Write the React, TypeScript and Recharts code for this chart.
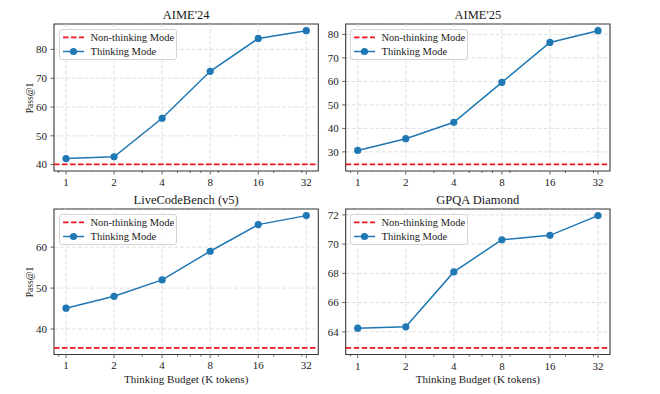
import React from "react";
import {
  LineChart,
  Line,
  XAxis,
  YAxis,
  CartesianGrid,
  ReferenceLine,
  ReferenceArea,
} from "recharts";

// ---- data ----
const budgets = [1, 2, 4, 8, 16, 32];
const minorBudgets = [0.9, 3, 5, 6, 7, 9, 20, 30];

const aime24Thinking = [42.1, 42.7, 56.1, 72.4, 83.8, 86.5];
const aime24NonThinking = 40.1;
const aime24Ticks = [40, 50, 60, 70, 80];

const aime25Thinking = [30.6, 35.6, 42.6, 59.6, 76.6, 81.6];
const aime25NonThinking = 24.7;
const aime25Ticks = [30, 40, 50, 60, 70, 80];

const lcbThinking = [45.1, 48.0, 52.0, 59.0, 65.5, 67.7];
const lcbNonThinking = 35.4;
const lcbTicks = [40, 50, 60];

const gpqaThinking = [64.25, 64.34, 68.1, 70.3, 70.6, 71.95];
const gpqaNonThinking = 62.9;
const gpqaTicks = [64, 66, 68, 70, 72];

const titles = ["AIME'24", "AIME'25", "LiveCodeBench (v5)", "GPQA Diamond"];
const legendLabels = ["Non-thinking Mode", "Thinking Mode"];
const xLabel = "Thinking Budget (K tokens)";
const yLabel = "Pass@1";

// ---- styling ----
const FONT = "'Liberation Serif', 'Times New Roman', serif";
const BLUE = "#1f77b4";
const RED = "#f0141e";
const GRID = "#d8d8d8";
const FRAME = "#3a3a3a";
const TEXT = "#1a1a1a";

const log2 = (v: number) => Math.log(v) / Math.log(2);
const X_DOMAIN: [number, number] = [-0.25, 5.25];
const xTicks = [...minorBudgets, ...budgets].map(log2).sort((a, b) => a - b);

function padDomain(values: number[], ref: number): [number, number] {
  const lo = Math.min(ref, ...values);
  const hi = Math.max(ref, ...values);
  const m = (hi - lo) * 0.05;
  return [lo - m, hi + m];
}

function XTick(props: any) {
  const { x, y, payload } = props;
  const b = Math.round(Math.pow(2, payload.value) * 100) / 100;
  const major = budgets.includes(b);
  return (
    <g>
      <line x1={x} x2={x} y1={y} y2={y + (major ? 3.5 : 2)} stroke={FRAME} strokeWidth={0.8} />
      {major && (
        <text
          x={x}
          y={y + 15}
          textAnchor="middle"
          style={{ fontSize: 11, fontFamily: FONT, fill: TEXT }}
        >
          {b}
        </text>
      )}
    </g>
  );
}

function YTick(props: any) {
  const { x, y, payload } = props;
  return (
    <text
      x={x}
      y={y}
      dy={3.8}
      textAnchor="end"
      style={{ fontSize: 11, fontFamily: FONT, fill: TEXT }}
    >
      {payload.value}
    </text>
  );
}

type PanelProps = {
  title: string;
  values: number[];
  nonThinking: number;
  yTicks: number[];
  left: number;
  top: number;
  yAxisWidth: number;
  marginTop: number;
  height: number;
  showYLabel: boolean;
  showXLabel: boolean;
};

function Panel(p: PanelProps) {
  const data = budgets.map((b, i) => ({ x: log2(b), y: p.values[i] }));
  const domain = padDomain(p.values, p.nonThinking);
  const plotW = 264.3;
  const width = p.yAxisWidth + plotW + 12;
  const plotLeft = p.left + p.yAxisWidth;
  const plotTop = p.top + p.marginTop;
  const plotH = p.height - p.marginTop - 26;
  return (
    <>
      <div style={{ position: "absolute", left: p.left, top: p.top }}>
        <LineChart
          width={width}
          height={p.height}
          data={data}
          margin={{ top: p.marginTop, right: 12, left: 0, bottom: 0 }}
        >
          <CartesianGrid vertical={false} stroke={GRID} strokeDasharray="4 2" strokeWidth={0.8} />
          <XAxis
            dataKey="x"
            type="number"
            domain={X_DOMAIN}
            allowDataOverflow
            ticks={xTicks}
            interval={0}
            height={26}
            tickSize={0}
            tickMargin={0}
            tickLine={false}
            axisLine={false}
            tick={(tp: any) => <XTick {...tp} />}
          />
          <YAxis
            type="number"
            domain={domain}
            allowDataOverflow
            ticks={p.yTicks}
            interval={0}
            width={p.yAxisWidth}
            tickSize={3.5}
            tickMargin={3.5}
            axisLine={false}
            tickLine={{ stroke: FRAME, strokeWidth: 0.8 }}
            tick={(tp: any) => <YTick {...tp} />}
          />
          {budgets.map((b) => (
            <ReferenceLine
              key={b}
              x={log2(b)}
              stroke={GRID}
              strokeDasharray="4 2"
              strokeWidth={0.8}
            />
          ))}
          <ReferenceLine
            y={p.nonThinking}
            stroke={RED}
            strokeWidth={1.8}
            strokeDasharray="5.5 2.5"
          />
          <Line
            dataKey="y"
            stroke={BLUE}
            strokeWidth={1.5}
            dot={{ r: 3.6, fill: BLUE, stroke: BLUE, strokeWidth: 0 }}
            isAnimationActive={false}
          />
          <ReferenceArea
            x1={X_DOMAIN[0]}
            x2={X_DOMAIN[1]}
            y1={domain[0]}
            y2={domain[1]}
            fill="none"
            fillOpacity={0}
            stroke={FRAME}
            strokeWidth={1.1}
            ifOverflow="visible"
          />
        </LineChart>
      </div>
      {/* title */}
      <div
        style={{
          position: "absolute",
          left: plotLeft,
          width: plotW,
          top: plotTop - 17,
          height: 16,
          lineHeight: "16px",
          textAlign: "center",
          fontFamily: FONT,
          fontSize: 12.5,
          color: TEXT,
          whiteSpace: "nowrap",
        }}
      >
        {p.title}
      </div>
      {/* legend */}
      <div
        style={{
          position: "absolute",
          left: plotLeft + 4.7,
          top: plotTop + 5,
          width: 118,
          height: 31,
          boxSizing: "border-box",
          border: "1px solid #d4d4d4",
          borderRadius: 3,
          background: "rgba(255,255,255,0.85)",
        }}
      >
        <svg width={118} height={31} style={{ position: "absolute", left: -1, top: -1 }}>
          <line x1={4} x2={25} y1={8.3} y2={8.3} stroke={RED} strokeWidth={1.8} strokeDasharray="5.5 2.5" />
          <line x1={4} x2={25} y1={22.5} y2={22.5} stroke={BLUE} strokeWidth={1.5} />
          <circle cx={14.5} cy={22.5} r={3.6} fill={BLUE} />
          <text x={31.5} y={12} style={{ fontSize: 10.5, fontFamily: FONT, fill: TEXT }}>
            {legendLabels[0]}
          </text>
          <text x={31.5} y={26.2} style={{ fontSize: 10.5, fontFamily: FONT, fill: TEXT }}>
            {legendLabels[1]}
          </text>
        </svg>
      </div>
      {p.showYLabel && (
        <div
          style={{
            position: "absolute",
            left: plotLeft - 24 - 40,
            top: plotTop + plotH / 2 - 8,
            width: 80,
            height: 16,
            lineHeight: "16px",
            textAlign: "center",
            fontFamily: FONT,
            fontSize: 9.5,
            color: TEXT,
            transform: "rotate(-90deg)",
          }}
        >
          {yLabel}
        </div>
      )}
      {p.showXLabel && (
        <div
          style={{
            position: "absolute",
            left: plotLeft,
            width: plotW,
            top: plotTop + plotH + 16,
            height: 16,
            lineHeight: "16px",
            textAlign: "center",
            fontFamily: FONT,
            fontSize: 11,
            color: TEXT,
            whiteSpace: "nowrap",
          }}
        >
          {xLabel}
        </div>
      )}
    </>
  );
}

export default function App() {
  return (
    <div
      style={{
        position: "absolute",
        left: 0,
        top: 0,
        width: 660,
        height: 394,
        background: "#fff",
        overflow: "hidden",
      }}
    >
      <Panel
        title={titles[0]}
        values={aime24Thinking}
        nonThinking={aime24NonThinking}
        yTicks={aime24Ticks}
        left={0}
        top={0}
        yAxisWidth={54}
        marginTop={24}
        height={197}
        showYLabel
        showXLabel={false}
      />
      <Panel
        title={titles[1]}
        values={aime25Thinking}
        nonThinking={aime25NonThinking}
        yTicks={aime25Ticks}
        left={290}
        top={0}
        yAxisWidth={55.7}
        marginTop={24}
        height={197}
        showYLabel={false}
        showXLabel={false}
      />
      <Panel
        title={titles[2]}
        values={lcbThinking}
        nonThinking={lcbNonThinking}
        yTicks={lcbTicks}
        left={0}
        top={190}
        yAxisWidth={54}
        marginTop={19}
        height={190.5}
        showYLabel
        showXLabel
      />
      <Panel
        title={titles[3]}
        values={gpqaThinking}
        nonThinking={gpqaNonThinking}
        yTicks={gpqaTicks}
        left={290}
        top={190}
        yAxisWidth={55.7}
        marginTop={19}
        height={190.5}
        showYLabel={false}
        showXLabel
      />
    </div>
  );
}
